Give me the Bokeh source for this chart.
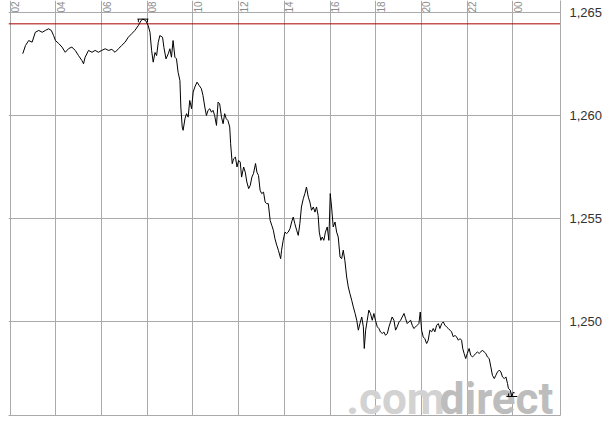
from math import pi
from bokeh.plotting import figure
from bokeh.models import FixedTicker, Span, Label, ColumnDataSource
from bokeh.core.properties import value
from bokeh.embed import file_html
from bokeh.resources import INLINE

# intraday time (decimal hours) and price
hours = [2.55, 2.67, 2.81, 2.96, 3.10, 3.25, 3.40, 3.54, 3.68, 3.80, 3.90, 3.98, 4.12, 4.27, 4.41, 4.56,
         4.70, 4.85, 4.99, 5.14, 5.21, 5.28, 5.43, 5.58, 5.72, 5.86, 6.01, 6.16, 6.30, 6.45, 6.59, 6.74,
         6.88, 7.03, 7.17, 7.32, 7.46, 7.61, 7.73, 7.81, 7.93, 8.04, 8.12, 8.19, 8.26, 8.34, 8.41, 8.48,
         8.55, 8.67, 8.73, 8.82, 8.92, 8.99, 9.06, 9.13, 9.21, 9.28, 9.35, 9.43, 9.47, 9.53, 9.57, 9.65,
         9.72, 9.79, 9.86, 9.94, 10.01, 10.08, 10.18, 10.27, 10.37, 10.44, 10.52, 10.59, 10.66, 10.74,
         10.81, 10.88, 10.95, 11.03, 11.10, 11.17, 11.25, 11.32, 11.39, 11.46, 11.53, 11.61, 11.65, 11.72,
         11.78, 11.86, 11.93, 12.00, 12.07, 12.13, 12.22, 12.29, 12.36, 12.44, 12.51, 12.58, 12.65, 12.74,
         12.80, 12.87, 12.94, 13.01, 13.09, 13.16, 13.23, 13.30, 13.38, 13.45, 13.52, 13.59, 13.67, 13.74,
         13.84, 13.88, 13.95, 14.03, 14.10, 14.17, 14.25, 14.32, 14.39, 14.46, 14.54, 14.61, 14.68, 14.75,
         14.83, 14.90, 14.97, 15.05, 15.12, 15.19, 15.27, 15.34, 15.41, 15.48, 15.53, 15.60, 15.66, 15.73,
         15.80, 15.88, 15.95, 16.01, 16.07, 16.14, 16.22, 16.29, 16.36, 16.44, 16.51, 16.58, 16.65, 16.73,
         16.80, 16.87, 16.95, 17.02, 17.10, 17.17, 17.24, 17.31, 17.39, 17.46, 17.50, 17.56, 17.63, 17.70,
         17.77, 17.85, 17.92, 17.99, 18.07, 18.14, 18.21, 18.29, 18.36, 18.43, 18.51, 18.58, 18.65, 18.72,
         18.80, 18.87, 18.94, 19.02, 19.09, 19.16, 19.24, 19.31, 19.38, 19.45, 19.53, 19.60, 19.67, 19.75,
         19.82, 19.89, 19.95, 20.01, 20.08, 20.15, 20.23, 20.30, 20.37, 20.45, 20.52, 20.59, 20.67, 20.74,
         20.81, 20.89, 20.96, 21.03, 21.10, 21.18, 21.25, 21.32, 21.40, 21.47, 21.54, 21.62, 21.69, 21.76,
         21.81, 21.87, 21.94, 22.01, 22.09, 22.16, 22.24, 22.31, 22.38, 22.45, 22.53, 22.60, 22.67, 22.75,
         22.82, 22.89, 22.97, 23.04, 23.11, 23.19, 23.26, 23.33, 23.41, 23.48, 23.55, 23.63, 23.70, 23.77,
         23.81, 23.89, 23.96, 24.03, 24.08]

prices = [1.26300, 1.26340, 1.26364, 1.26356, 1.26404, 1.26413, 1.26404, 1.26413, 1.26421, 1.26413,
          1.26388, 1.26364, 1.26350, 1.26332, 1.26307, 1.26325, 1.26332, 1.26316, 1.26291, 1.26267,
          1.26251, 1.26283, 1.26316, 1.26307, 1.26316, 1.26307, 1.26316, 1.26324, 1.26316, 1.26321,
          1.26307, 1.26324, 1.26340, 1.26356, 1.26380, 1.26397, 1.26413, 1.26437, 1.26461, 1.26468,
          1.26461, 1.26437, 1.26404, 1.26316, 1.26259, 1.26306, 1.26291, 1.26354, 1.26388, 1.26380,
          1.26330, 1.26275, 1.26300, 1.26324, 1.26283, 1.26364, 1.26283, 1.26275, 1.26210, 1.26170,
          1.26041, 1.25944, 1.25928, 1.25984, 1.26009, 1.25992, 1.26073, 1.26033, 1.26113, 1.26138,
          1.26162, 1.26146, 1.26130, 1.26097, 1.26041, 1.26000, 1.26025, 1.26033, 1.26016, 1.26025,
          1.26000, 1.25952, 1.26065, 1.26057, 1.25992, 1.25960, 1.26009, 1.25984, 1.25976, 1.25944,
          1.25863, 1.25766, 1.25790, 1.25798, 1.25750, 1.25782, 1.25774, 1.25701, 1.25750, 1.25725,
          1.25677, 1.25645, 1.25661, 1.25701, 1.25718, 1.25767, 1.25725, 1.25709, 1.25637, 1.25621,
          1.25628, 1.25580, 1.25572, 1.25572, 1.25491, 1.25467, 1.25443, 1.25402, 1.25370, 1.25346,
          1.25305, 1.25346, 1.25394, 1.25434, 1.25427, 1.25434, 1.25451, 1.25483, 1.25507, 1.25475,
          1.25443, 1.25418, 1.25475, 1.25556, 1.25596, 1.25621, 1.25653, 1.25604, 1.25580, 1.25540,
          1.25556, 1.25531, 1.25556, 1.25515, 1.25434, 1.25394, 1.25410, 1.25394, 1.25434, 1.25459,
          1.25394, 1.25621, 1.25556, 1.25459, 1.25483, 1.25434, 1.25410, 1.25313, 1.25305, 1.25346,
          1.25297, 1.25216, 1.25168, 1.25136, 1.25103, 1.25071, 1.25039, 1.25006, 1.24958, 1.24990,
          1.25022, 1.24974, 1.24869, 1.24958, 1.25006, 1.25055, 1.25039, 1.25006, 1.25039, 1.25006,
          1.24974, 1.24966, 1.24949, 1.24942, 1.24949, 1.24933, 1.24942, 1.24974, 1.24998, 1.25022,
          1.25006, 1.24958, 1.24974, 1.24998, 1.25006, 1.25022, 1.25039, 1.25014, 1.24990, 1.24998,
          1.25006, 1.24982, 1.24966, 1.24974, 1.24982, 1.24990, 1.25046, 1.24958, 1.24925, 1.24917,
          1.24893, 1.24909, 1.24958, 1.24950, 1.24966, 1.24950, 1.24982, 1.24990, 1.24966, 1.24990,
          1.24998, 1.24982, 1.24974, 1.24966, 1.24958, 1.24950, 1.24925, 1.24933, 1.24925, 1.24909,
          1.24917, 1.24909, 1.24869, 1.24845, 1.24820, 1.24845, 1.24869, 1.24836, 1.24828, 1.24836,
          1.24845, 1.24852, 1.24845, 1.24852, 1.24861, 1.24852, 1.24845, 1.24828, 1.24820, 1.24780,
          1.24739, 1.24723, 1.24739, 1.24755, 1.24764, 1.24755, 1.24731, 1.24723, 1.24731, 1.24699,
          1.24675, 1.24667, 1.24636, 1.24658, 1.24652]

grid_hours = [2, 4, 6, 8, 10, 12, 14, 16, 18, 20, 22, 24]
grid_labels = ["02", "04", "06", "08", "10", "12", "14", "16", "18", "20", "22", "00"]
y_ticks = [1.250, 1.255, 1.260, 1.265]
y_labels = ["1,250", "1,255", "1,260", "1,265"]
prev_close = 1.26445

GRID = "#aaaaaa"

p = figure(width=605, height=425, output_backend="svg", toolbar_location=None,
           x_range=(1.926, 26.09), y_range=(1.245437, 1.265583),
           y_axis_location="right",
           min_border_left=8, min_border_right=43, min_border_top=0, min_border_bottom=10)
p.outline_line_color = None
p.background_fill_color = "white"
p.border_fill_color = "white"

p.xgrid.ticker = FixedTicker(ticks=grid_hours)
p.ygrid.ticker = FixedTicker(ticks=y_ticks)
for g in (p.xgrid, p.ygrid):
    g.grid_line_color = GRID
    g.grid_line_width = 1

xa = p.xaxis[0]
xa.ticker = FixedTicker(ticks=[])
xa.axis_line_color = GRID
xa.major_tick_line_color = None
xa.minor_tick_line_color = None
xa.major_label_text_font_size = "0px"
xa.major_label_standoff = 0

ya = p.yaxis[0]
ya.ticker = FixedTicker(ticks=y_ticks)
ya.major_label_overrides = dict(zip(y_ticks, y_labels))
ya.axis_line_color = GRID
ya.major_tick_line_color = None
ya.minor_tick_line_color = None
ya.major_label_standoff = 3
ya.major_label_text_font = "Liberation Sans"
ya.major_label_text_font_size = "13px"
ya.major_label_text_color = "#333333"

# watermark
p.add_layout(Label(x=16.71, y=1.24625, text=".com", text_align="left", text_baseline="alphabetic",
                   text_font="Roboto", text_font_style="bold", text_font_size="44px",
                   text_color="#d2d2d2", level="underlay"))
p.add_layout(Label(x=25.78, y=1.24625, text="direct", text_align="right", text_baseline="alphabetic",
                   text_font="Roboto", text_font_style="bold", text_font_size="44px",
                   text_color="#bdbdbd", level="underlay"))

# previous close reference line
p.add_layout(Span(location=prev_close, dimension="width", line_color="#a80000", line_width=1, level="underlay"))

# hour labels at the top
lab_src = ColumnDataSource(dict(x=grid_hours, y=[y_ticks[-1]] * len(grid_hours), t=grid_labels))
p.text(x="x", y="y", text="t", source=lab_src, angle=pi / 2, text_align="left", text_baseline="top",
       x_offset=1, text_font=value("Liberation Sans"), text_font_size="10px", text_color="#8c8c8c")

# price line
p.line(hours, prices, line_color="black", line_width=1)

# high / low markers
hi = prices.index(max(prices))
lo = prices.index(min(prices))
hx, hv = hours[hi], prices[hi]
lx, lv = hours[lo], prices[lo]
half = 0.24
tk = 0.00015
p.segment(x0=[hx - half, hx - half + 0.04, hx + half - 0.04, lx - half, lx - half + 0.1],
          y0=[hv, hv, hv, lv, lv],
          x1=[hx + half, hx - half + 0.04, hx + half - 0.04, lx + half, lx - half + 0.1],
          y1=[hv, hv - tk, hv - tk, lv, lv + tk],
          line_color="black", line_width=1)

html = file_html(p, INLINE)
html = html.replace("<head>", "<head><style>html,body{margin:0;padding:0;overflow:hidden}</style>", 1)
open("out.html", "w").write(html)
